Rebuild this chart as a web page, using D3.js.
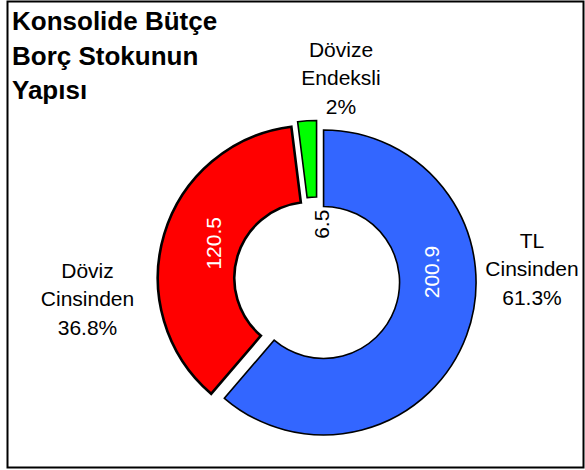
<!DOCTYPE html>
<html>
<head>
<meta charset="utf-8">
<script src="https://cdn.jsdelivr.net/npm/d3@7"></script>
<style>
  html, body { margin: 0; padding: 0; background: #fff; }
  svg { display: block; }
  text { font-family: "Liberation Sans", Arial, sans-serif; }
</style>
</head>
<body>
<div id="chart"></div>
<script>
// ---- data ----
const titleLines = ["Konsolide Bütçe", "Borç Stokunun", "Yapısı"];
const categories = ["TL Cinsinden", "Döviz Cinsinden", "Dövize Endeksli"];
const values = [200.9, 120.5, 6.5];
const valueLabels = ["200.9", "120.5", "6.5"];
const categoryLabelLines = [["TL", "Cinsinden", "61.3%"], ["Döviz", "Cinsinden", "36.8%"], ["Dövize", "Endeksli", "2%"]];
const colors = ["#3366FF", "#FF0000", "#00FF00"];

// ---- layout ----
const W = 585, H = 470;
const cx = 317, cy = 280;
const outerR = 152.5, innerR = 76;
const explode = 7;
const strokeW = [1.6, 2.6, 1.6];
// value label anchor (polar, clockwise from top, degrees) and colour
const valueLabelPos = [{a: 86, r: 115, fill: "#fff"}, {a: 289.5, r: 110, fill: "#fff"}, {a: 5, r: 56, fill: "#000"}];
// category label block: centre x and first baseline
const catLabelPos = [{x: 532, y: 248}, {x: 87.5, y: 278}, {x: 341, y: 57}];

const svg = d3.select("#chart").append("svg").attr("width", W).attr("height", H);

svg.append("rect").attr("x", 7.5).attr("y", 1.5).attr("width", 576).attr("height", 466)
  .attr("fill", "#fff").attr("stroke", "#000").attr("stroke-width", 2);

const pie = d3.pie().sort(null).value(d => d).startAngle(0).endAngle(2 * Math.PI);
const arcs = pie(values);
const arc = d3.arc().innerRadius(innerR).outerRadius(outerR);

const g = svg.append("g").attr("transform", `translate(${cx},${cy})`);
g.selectAll("path.slice").data(arcs).enter().append("path")
  .attr("class", "slice")
  .attr("d", arc)
  .attr("fill", (d, i) => colors[i])
  .attr("stroke", "#000")
  .attr("stroke-width", (d, i) => strokeW[i])
  .attr("stroke-linejoin", "miter")
  .attr("transform", d => {
    const m = (d.startAngle + d.endAngle) / 2;
    return `translate(${Math.sin(m) * explode},${-Math.cos(m) * explode})`;
  });

// value labels (rotated)
g.selectAll("text.val").data(arcs).enter().append("text")
  .attr("class", "val")
  .attr("transform", (d, i) => {
    const p = valueLabelPos[i];
    const a = p.a * Math.PI / 180;
    return `translate(${Math.sin(a) * p.r},${-Math.cos(a) * p.r}) rotate(-90)`;
  })
  .attr("text-anchor", "middle")
  .attr("dy", "0.36em")
  .attr("font-size", 21)
  .attr("fill", (d, i) => valueLabelPos[i].fill)
  .text((d, i) => valueLabels[i]);

// category labels
categories.forEach((c, i) => {
  const p = catLabelPos[i];
  const t = svg.append("text").attr("text-anchor", "middle").attr("font-size", 21).attr("fill", "#000");
  categoryLabelLines[i].forEach((line, j) => {
    t.append("tspan").attr("x", p.x).attr("y", p.y + j * 28.3).text(line);
  });
});

// title
const tt = svg.append("text").attr("font-size", 26).attr("font-weight", "bold").attr("fill", "#000");
titleLines.forEach((line, j) => {
  tt.append("tspan").attr("x", 12).attr("y", 30 + j * 34.5).text(line);
});
</script>
</body>
</html>
